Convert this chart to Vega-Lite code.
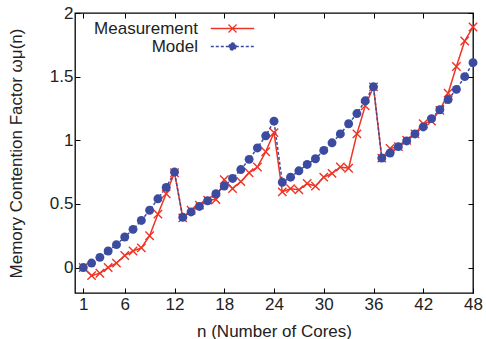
{
  "$schema": "https://vega.github.io/schema/vega-lite/v6.json",
  "width": 398,
  "height": 280,
  "autosize": {"type": "none"},
  "padding": {"left": 75, "top": 13, "right": 13, "bottom": 46},
  "config": {
    "font": "Liberation Sans",
    "view": {"stroke": "#000", "strokeWidth": 1.3},
    "axis": {
      "grid": false,
      "domain": false,
      "tickColor": "#000",
      "tickWidth": 1,
      "tickSize": -5,
      "labelColor": "#222",
      "titleColor": "#222",
      "labelFontSize": 17,
      "titleFontSize": 17,
      "titleFontWeight": "normal",
      "labelFont": "Liberation Sans",
      "titleFont": "Liberation Sans",
      "labelFlush": false
    }
  },
  "data": {
    "values": [
      {"n": 1, "v": 0, "s": "Measurement"},
      {"n": 2, "v": -0.063, "s": "Measurement"},
      {"n": 3, "v": -0.045, "s": "Measurement"},
      {"n": 4, "v": 0.0, "s": "Measurement"},
      {"n": 5, "v": 0.035, "s": "Measurement"},
      {"n": 6, "v": 0.095, "s": "Measurement"},
      {"n": 7, "v": 0.13, "s": "Measurement"},
      {"n": 8, "v": 0.155, "s": "Measurement"},
      {"n": 9, "v": 0.25, "s": "Measurement"},
      {"n": 10, "v": 0.42, "s": "Measurement"},
      {"n": 11, "v": 0.58, "s": "Measurement"},
      {"n": 12, "v": 0.745, "s": "Measurement"},
      {"n": 13, "v": 0.39, "s": "Measurement"},
      {"n": 14, "v": 0.45, "s": "Measurement"},
      {"n": 15, "v": 0.49, "s": "Measurement"},
      {"n": 16, "v": 0.53, "s": "Measurement"},
      {"n": 17, "v": 0.535, "s": "Measurement"},
      {"n": 18, "v": 0.69, "s": "Measurement"},
      {"n": 19, "v": 0.62, "s": "Measurement"},
      {"n": 20, "v": 0.675, "s": "Measurement"},
      {"n": 21, "v": 0.745, "s": "Measurement"},
      {"n": 22, "v": 0.79, "s": "Measurement"},
      {"n": 23, "v": 0.91, "s": "Measurement"},
      {"n": 24, "v": 1.06, "s": "Measurement"},
      {"n": 25, "v": 0.595, "s": "Measurement"},
      {"n": 26, "v": 0.62, "s": "Measurement"},
      {"n": 27, "v": 0.61, "s": "Measurement"},
      {"n": 28, "v": 0.66, "s": "Measurement"},
      {"n": 29, "v": 0.64, "s": "Measurement"},
      {"n": 30, "v": 0.71, "s": "Measurement"},
      {"n": 31, "v": 0.74, "s": "Measurement"},
      {"n": 32, "v": 0.79, "s": "Measurement"},
      {"n": 33, "v": 0.78, "s": "Measurement"},
      {"n": 34, "v": 1.05, "s": "Measurement"},
      {"n": 35, "v": 1.27, "s": "Measurement"},
      {"n": 36, "v": 1.42, "s": "Measurement"},
      {"n": 37, "v": 0.86, "s": "Measurement"},
      {"n": 38, "v": 0.935, "s": "Measurement"},
      {"n": 39, "v": 0.95, "s": "Measurement"},
      {"n": 40, "v": 1.0, "s": "Measurement"},
      {"n": 41, "v": 1.05, "s": "Measurement"},
      {"n": 42, "v": 1.13, "s": "Measurement"},
      {"n": 43, "v": 1.15, "s": "Measurement"},
      {"n": 44, "v": 1.235, "s": "Measurement"},
      {"n": 45, "v": 1.37, "s": "Measurement"},
      {"n": 46, "v": 1.58, "s": "Measurement"},
      {"n": 47, "v": 1.78, "s": "Measurement"},
      {"n": 48, "v": 1.89, "s": "Measurement"},
      {"n": 1, "v": 0, "s": "Model"},
      {"n": 2, "v": 0.035, "s": "Model"},
      {"n": 3, "v": 0.08, "s": "Model"},
      {"n": 4, "v": 0.13, "s": "Model"},
      {"n": 5, "v": 0.18, "s": "Model"},
      {"n": 6, "v": 0.24, "s": "Model"},
      {"n": 7, "v": 0.3, "s": "Model"},
      {"n": 8, "v": 0.37, "s": "Model"},
      {"n": 9, "v": 0.45, "s": "Model"},
      {"n": 10, "v": 0.54, "s": "Model"},
      {"n": 11, "v": 0.63, "s": "Model"},
      {"n": 12, "v": 0.75, "s": "Model"},
      {"n": 13, "v": 0.395, "s": "Model"},
      {"n": 14, "v": 0.437, "s": "Model"},
      {"n": 15, "v": 0.48, "s": "Model"},
      {"n": 16, "v": 0.525, "s": "Model"},
      {"n": 17, "v": 0.58, "s": "Model"},
      {"n": 18, "v": 0.64, "s": "Model"},
      {"n": 19, "v": 0.7, "s": "Model"},
      {"n": 20, "v": 0.77, "s": "Model"},
      {"n": 21, "v": 0.85, "s": "Model"},
      {"n": 22, "v": 0.94, "s": "Model"},
      {"n": 23, "v": 1.035, "s": "Model"},
      {"n": 24, "v": 1.15, "s": "Model"},
      {"n": 25, "v": 0.67, "s": "Model"},
      {"n": 26, "v": 0.71, "s": "Model"},
      {"n": 27, "v": 0.76, "s": "Model"},
      {"n": 28, "v": 0.81, "s": "Model"},
      {"n": 29, "v": 0.855, "s": "Model"},
      {"n": 30, "v": 0.92, "s": "Model"},
      {"n": 31, "v": 0.98, "s": "Model"},
      {"n": 32, "v": 1.05, "s": "Model"},
      {"n": 33, "v": 1.13, "s": "Model"},
      {"n": 34, "v": 1.21, "s": "Model"},
      {"n": 35, "v": 1.31, "s": "Model"},
      {"n": 36, "v": 1.42, "s": "Model"},
      {"n": 37, "v": 0.86, "s": "Model"},
      {"n": 38, "v": 0.9, "s": "Model"},
      {"n": 39, "v": 0.95, "s": "Model"},
      {"n": 40, "v": 0.995, "s": "Model"},
      {"n": 41, "v": 1.05, "s": "Model"},
      {"n": 42, "v": 1.105, "s": "Model"},
      {"n": 43, "v": 1.17, "s": "Model"},
      {"n": 44, "v": 1.24, "s": "Model"},
      {"n": 45, "v": 1.32, "s": "Model"},
      {"n": 46, "v": 1.4, "s": "Model"},
      {"n": 47, "v": 1.5, "s": "Model"},
      {"n": 48, "v": 1.61, "s": "Model"}
    ]
  },
  "resolve": {"axis": {"x": "independent", "y": "independent"}},
  "layer": [
    {
      "mark": {"type": "line", "strokeWidth": 1.5},
      "encoding": {
        "x": {
          "field": "n", "type": "quantitative",
          "scale": {"domain": [0, 48], "nice": false, "zero": false},
          "axis": {"values": [1, 6, 12, 18, 24, 30, 36, 42, 48], "title": "n (Number of Cores)", "labelPadding": 8, "titlePadding": 11}
        },
        "y": {
          "field": "v", "type": "quantitative",
          "scale": {"domain": [-0.2, 2], "nice": false, "zero": false},
          "axis": {"values": [0, 0.5, 1, 1.5, 2], "format": "~g", "title": "Memory Contention Factor ωμ(n)", "labelPadding": 7, "titlePadding": 24}
        },
        "color": {
          "field": "s", "type": "nominal",
          "scale": {"domain": ["Measurement", "Model"], "range": ["#ee3424", "#3b4ca0"]},
          "legend": {
            "orient": "none",
            "legendX": 149,
            "legendY": 7,
            "title": null,
            "padding": 0,
            "labelFontSize": 17,
            "labelColor": "#222",
            "labelAlign": "right",
            "labelOffset": -43,
            "symbolOffset": 0,
            "symbolSize": 196,
            "symbolStrokeWidth": 1.3,
            "rowPadding": 0,
            "encode": {
              "symbols": {
                "update": {
                  "shape": {"signal": "datum.value === 'Measurement' ? 'M-3.1,0L3.1,0M-0.57,-0.57L0.57,0.57M-0.57,0.57L0.57,-0.57' : 'M-3.1,0L3.1,0M0.5,0A0.5,0.5,0,1,1,-0.5,0A0.5,0.5,0,1,1,0.5,0Z'"},
                  "fill": {"signal": "datum.value === 'Model' ? '#3b4ca0' : 'transparent'"},
                  "strokeDash": {"signal": "datum.value === 'Model' ? [3, 2] : [1, 0]"}
                }
              }
            }
          }
        },
        "strokeDash": {
          "field": "s", "type": "nominal",
          "scale": {"domain": ["Measurement", "Model"], "range": [[1, 0], [3, 2]]},
          "legend": null
        }
      }
    },
    {
      "transform": [{"filter": "datum.s === 'Measurement'"}],
      "mark": {"type": "point", "shape": "M-1,-1L1,1M-1,1L1,-1", "size": 70, "filled": false, "stroke": "#ee3424", "strokeWidth": 1.4, "opacity": 1},
      "encoding": {
        "x": {"field": "n", "type": "quantitative", "axis": null},
        "y": {"field": "v", "type": "quantitative", "axis": null}
      }
    },
    {
      "transform": [{"filter": "datum.s === 'Model'"}],
      "mark": {"type": "circle", "size": 80, "color": "#3b4ca0", "opacity": 1},
      "encoding": {
        "x": {"field": "n", "type": "quantitative", "axis": null},
        "y": {"field": "v", "type": "quantitative", "axis": null}
      }
    },
    {
      "mark": {"type": "point", "opacity": 0},
      "encoding": {
        "x": {"field": "n", "type": "quantitative", "axis": {"orient": "top", "values": [1, 6, 12, 18, 24, 30, 36, 42, 48], "labels": false, "title": null}},
        "y": {"field": "v", "type": "quantitative", "axis": {"orient": "right", "values": [0, 0.5, 1, 1.5, 2], "labels": false, "title": null}}
      }
    }
  ]
}
